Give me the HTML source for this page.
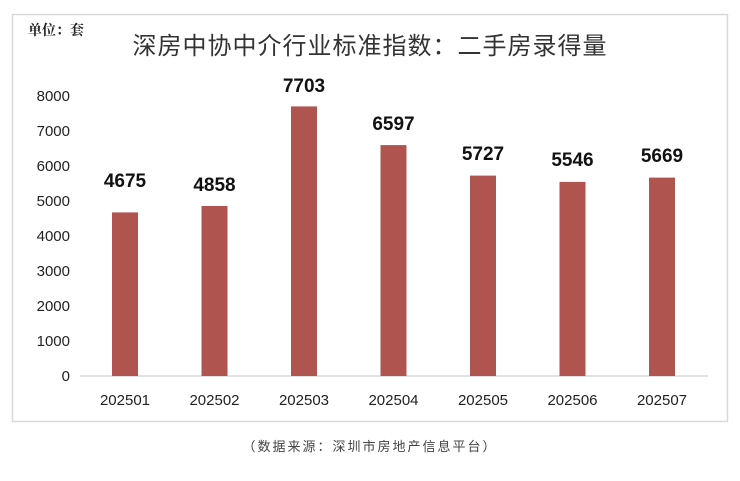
<!DOCTYPE html>
<html><head><meta charset="utf-8"><style>
body{margin:0;background:#fff;width:740px;height:476px;overflow:hidden}
</style></head><body>
<svg width="740" height="476" xmlns="http://www.w3.org/2000/svg" font-family="'Liberation Sans','Noto Sans CJK SC',sans-serif">
<rect x="12.5" y="14.5" width="715" height="407" fill="#fff" stroke="#d9d9d9" stroke-width="1.5"/>
<text x="28" y="35" font-size="14" font-weight="bold" font-family="'Noto Serif CJK SC',serif" fill="#222">单位：套</text>
<text x="370" y="54" font-size="24" text-anchor="middle" fill="#333" font-family="'Noto Sans CJK SC',sans-serif" letter-spacing="1">深房中协中介行业标准指数：二手房录得量</text>
<g font-size="15" fill="#222" text-anchor="end">
<text x="70" y="101">8000</text><text x="70" y="136">7000</text><text x="70" y="171">6000</text><text x="70" y="206">5000</text><text x="70" y="241">4000</text><text x="70" y="276">3000</text><text x="70" y="311">2000</text><text x="70" y="346">1000</text><text x="70" y="381">0</text>
</g>
<line x1="80" y1="376" x2="708" y2="376" stroke="#d9d9d9" stroke-width="1.5"/>
<g fill="#b0544f">
<rect x="112" y="212.4" width="26" height="163.6"/>
<rect x="201.5" y="206" width="26" height="170"/>
<rect x="291" y="106.4" width="26" height="269.6"/>
<rect x="380.5" y="145.1" width="26" height="230.9"/>
<rect x="470" y="175.6" width="26" height="200.4"/>
<rect x="559.5" y="181.9" width="26" height="194.1"/>
<rect x="649" y="177.6" width="26" height="198.4"/>
</g>
<g font-size="19" font-weight="bold" fill="#111" text-anchor="middle">
<text x="125" y="187">4675</text><text x="214.5" y="191">4858</text><text x="304" y="92">7703</text><text x="393.5" y="130">6597</text><text x="483" y="160">5727</text><text x="572.5" y="166">5546</text><text x="662" y="162">5669</text>
</g>
<g font-size="15" fill="#222" text-anchor="middle">
<text x="125" y="405">202501</text><text x="214.5" y="405">202502</text><text x="304" y="405">202503</text><text x="393.5" y="405">202504</text><text x="483" y="405">202505</text><text x="572.5" y="405">202506</text><text x="662" y="405">202507</text>
</g>
<text x="370" y="451" font-size="13" fill="#444" text-anchor="middle" letter-spacing="2" font-family="'Noto Sans CJK SC',sans-serif">（数据来源：深圳市房地产信息平台）</text>
</svg>
</body></html>
